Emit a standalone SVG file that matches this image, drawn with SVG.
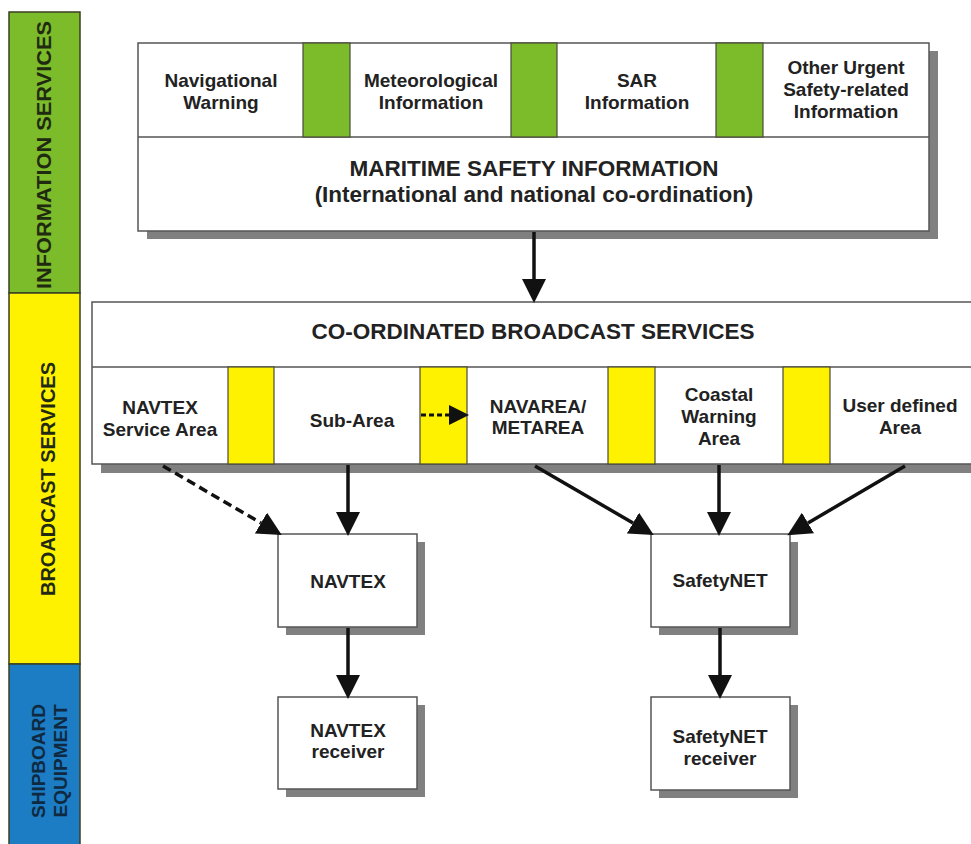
<svg xmlns="http://www.w3.org/2000/svg" width="971" height="844" viewBox="0 0 971 844">
<style>
.band{stroke:#3a3f22;stroke-width:1.5}
.box{fill:#fff;stroke:#555;stroke-width:1.5}
.shadow{fill:#808080}
.sepg{fill:#7cbb2a;stroke:#4a4a3a;stroke-width:1.2}
.sepy{fill:#fff200;stroke:#4a4a3a;stroke-width:1.2}
.t{font-family:"Liberation Sans",Arial,sans-serif;font-weight:bold;fill:#222;text-anchor:middle}
.s{font-size:19px}
.l{font-size:22.5px}
.bt{font-size:20px;fill:#1f2a10}
.con{stroke:#111;stroke-width:3.5;fill:none}
.dash{stroke-dasharray:9 5}
.dot{stroke-width:3;stroke-dasharray:5 3}
</style>
<defs>
<marker id="ah" markerUnits="userSpaceOnUse" markerWidth="24" markerHeight="24" viewBox="0 -11 22 22" refX="0" refY="0" orient="auto">
<path d="M0,-11 L22,0 L0,11 Z" fill="#111"/>
</marker>
<marker id="ahs" markerUnits="userSpaceOnUse" markerWidth="20" markerHeight="20" viewBox="0 -9 18 18" refX="0" refY="0" orient="auto">
<path d="M0,-9 L18,0 L0,9 Z" fill="#111"/>
</marker>
</defs>
<rect width="971" height="844" fill="#fff"/>

<g id="band-info">
<rect class="band" x="9" y="12" width="71" height="281" fill="#7cbb2a"/>
<text class="t bt" transform="translate(51,155) rotate(-90)" textLength="268" lengthAdjust="spacingAndGlyphs">INFORMATION SERVICES</text>
</g>
<g id="band-broadcast">
<rect class="band" x="9" y="293" width="71" height="371" fill="#fff200"/>
<text class="t bt" transform="translate(55,479) rotate(-90)">BROADCAST SERVICES</text>
</g>
<g id="band-shipboard">
<rect class="band" x="9" y="664" width="71" height="182" fill="#1c7cc4"/>
<text class="t bt" style="font-size:19px;fill:#0f2a40" transform="translate(45,761) rotate(-90)">SHIPBOARD</text>
<text class="t bt" style="font-size:19px;fill:#0f2a40" transform="translate(67,761) rotate(-90)">EQUIPMENT</text>
</g>

<g id="msi">
<rect class="shadow" x="147" y="51" width="791" height="188"/>
<rect class="box" x="138" y="43" width="791" height="188"/>
<line x1="138" y1="137" x2="929" y2="137" stroke="#555" stroke-width="1.5"/>
<rect class="sepg" x="303" y="43" width="47" height="94"/>
<rect class="sepg" x="511" y="43" width="46" height="94"/>
<rect class="sepg" x="716" y="43" width="47" height="94"/>
<text class="t s" x="221" y="87">Navigational</text>
<text class="t s" x="221" y="109">Warning</text>
<text class="t s" x="431" y="87">Meteorological</text>
<text class="t s" x="431" y="109">Information</text>
<text class="t s" x="637" y="87">SAR</text>
<text class="t s" x="637" y="109">Information</text>
<text class="t s" x="846" y="74">Other Urgent</text>
<text class="t s" x="846" y="96">Safety-related</text>
<text class="t s" x="846" y="118">Information</text>
<text class="t l" x="534" y="176">MARITIME SAFETY INFORMATION</text>
<text class="t l" x="534" y="202">(International and national co-ordination)</text>
</g>

<g id="cbs">
<rect class="shadow" x="101" y="310" width="880" height="163"/>
<rect class="box" x="92" y="302" width="890" height="162"/>
<line x1="92" y1="367" x2="982" y2="367" stroke="#555" stroke-width="1.5"/>
<rect class="sepy" x="228" y="367" width="46" height="97"/>
<rect class="sepy" x="420" y="367" width="47" height="97"/>
<rect class="sepy" x="608" y="367" width="47" height="97"/>
<rect class="sepy" x="783" y="367" width="47" height="97"/>
<text class="t l" x="533" y="339">CO-ORDINATED BROADCAST SERVICES</text>
<text class="t s" x="160" y="414">NAVTEX</text>
<text class="t s" x="160" y="436">Service Area</text>
<text class="t s" x="352" y="427">Sub-Area</text>
<text class="t s" x="538" y="413">NAVAREA/</text>
<text class="t s" x="538" y="434">METAREA</text>
<text class="t s" x="719" y="401">Coastal</text>
<text class="t s" x="719" y="423">Warning</text>
<text class="t s" x="719" y="445">Area</text>
<text class="t s" x="900" y="412">User defined</text>
<text class="t s" x="900" y="434">Area</text>
</g>

<g id="navtex">
<rect class="shadow" x="286" y="542" width="139" height="93"/>
<rect class="box" x="278" y="534" width="139" height="93"/>
<text class="t s" x="348" y="588">NAVTEX</text>
</g>
<g id="navtex-receiver">
<rect class="shadow" x="286" y="705" width="139" height="92"/>
<rect class="box" x="278" y="697" width="139" height="92"/>
<text class="t s" x="348" y="737">NAVTEX</text>
<text class="t s" x="348" y="758">receiver</text>
</g>
<g id="safetynet">
<rect class="shadow" x="659" y="542" width="139" height="93"/>
<rect class="box" x="651" y="534" width="139" height="93"/>
<text class="t s" x="720" y="587">SafetyNET</text>
</g>
<g id="safetynet-receiver">
<rect class="shadow" x="659" y="705" width="139" height="93"/>
<rect class="box" x="651" y="697" width="139" height="93"/>
<text class="t s" x="720" y="743">SafetyNET</text>
<text class="t s" x="720" y="765">receiver</text>
</g>

<g id="connectors">
<line class="con" x1="534" y1="232" x2="534" y2="279" marker-end="url(#ah)"/>
<line class="con dot" x1="421" y1="415" x2="449" y2="415" marker-end="url(#ahs)"/>
<line class="con dash" x1="163" y1="466" x2="261" y2="523" marker-end="url(#ah)"/>
<line class="con" x1="348" y1="465" x2="348" y2="512" marker-end="url(#ah)"/>
<line class="con" x1="535" y1="466" x2="633" y2="523" marker-end="url(#ah)"/>
<line class="con" x1="719" y1="465" x2="719" y2="512" marker-end="url(#ah)"/>
<line class="con" x1="905" y1="466" x2="808" y2="523" marker-end="url(#ah)"/>
<line class="con" x1="348" y1="628" x2="348" y2="675" marker-end="url(#ah)"/>
<line class="con" x1="720" y1="628" x2="720" y2="675" marker-end="url(#ah)"/>
</g>
</svg>
